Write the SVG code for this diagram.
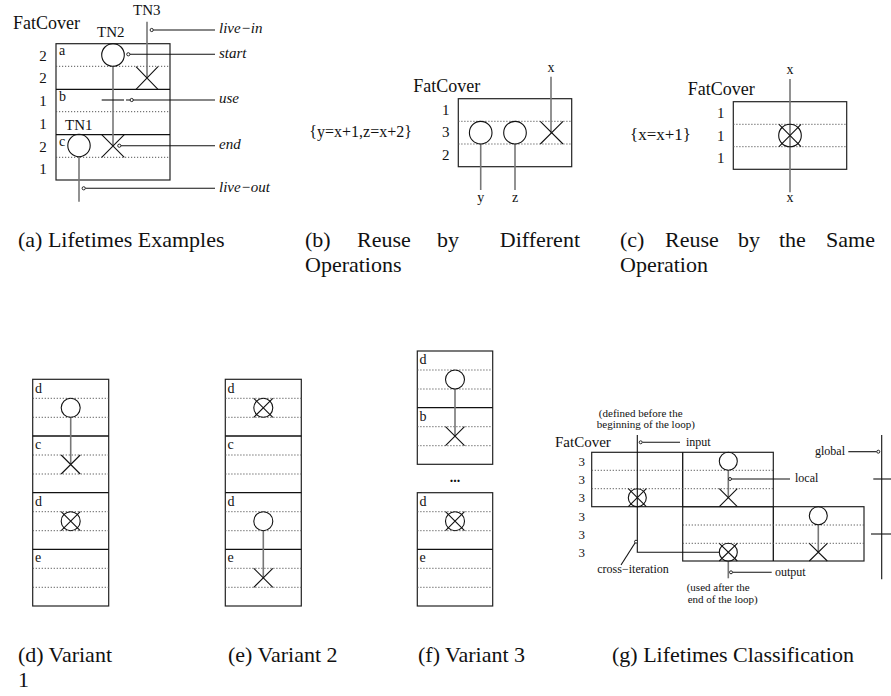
<svg xmlns="http://www.w3.org/2000/svg" width="891" height="696" viewBox="0 0 891 696">
<style>
text{font-family:"Liberation Serif","Times New Roman",serif;fill:#111}
.fc{font-size:18px}
.dg{font-size:15px;text-anchor:middle}
.sl{font-size:14px}
.it{font-size:15px;font-style:italic}
.g{font-size:12px}
.gs{font-size:11px}
.cap{font-size:22px}
.box{fill:none;stroke:#222;stroke-width:1.2}
.sep{stroke:#111;stroke-width:1.3}
.dot{stroke:#555;stroke-width:1;stroke-dasharray:1.2 1.8}
.life{stroke:#777;stroke-width:1.6;fill:none}
.ln{stroke:#111;stroke-width:1.1;fill:none}
.sym{fill:none;stroke:#111;stroke-width:1.1}
.pin{fill:#fff;stroke:#111;stroke-width:0.9}
</style>

<!-- Panel (a) -->
<g id="panel-a">
<text class="fc" x="13" y="29">FatCover</text>
<text x="133" y="15" style="font-size:15px">TN3</text>
<text x="97" y="37" style="font-size:15px">TN2</text>
<text x="65" y="130" style="font-size:15px">TN1</text>
<rect class="box" x="56" y="43.7" width="114" height="136.3"/>
<line class="sep" x1="56" y1="89.3" x2="170" y2="89.3"/>
<line class="sep" x1="56" y1="134.7" x2="170" y2="134.7"/>
<line class="dot" x1="56" y1="66.3" x2="170" y2="66.3"/>
<line class="dot" x1="56" y1="111.7" x2="170" y2="111.7"/>
<line class="dot" x1="56" y1="157.3" x2="170" y2="157.3"/>
<text class="sl" x="59" y="55">a</text>
<text class="sl" x="59" y="101">b</text>
<text class="sl" x="59" y="146">c</text>
<text class="dg" x="43" y="60.5">2</text>
<text class="dg" x="43" y="83.3">2</text>
<text class="dg" x="43" y="106">1</text>
<text class="dg" x="43" y="128.7">1</text>
<text class="dg" x="43" y="151.5">2</text>
<text class="dg" x="43" y="174.2">1</text>
</g>
<g id="TN2">
<line class="life" x1="113" y1="66.3" x2="113" y2="146"/>
<circle class="sym" cx="113" cy="55" r="11.3"/>
<path class="sym" d="M101.7,134.7L124.3,157.3M124.3,134.7L101.7,157.3"/>
</g>
<g id="TN3">
<line class="life" x1="147" y1="21.7" x2="147" y2="78"/>
<path class="sym" d="M136,66.7L158,89.3M158,66.7L136,89.3"/>
</g>
<g id="TN1">
<line class="life" x1="79" y1="156.7" x2="79" y2="201.7"/>
<circle class="sym" cx="79" cy="145.5" r="11.2"/>
</g>
<g id="connectors-a">
<line class="ln" x1="153.3" y1="30" x2="215" y2="30"/><circle class="pin" cx="151.7" cy="30" r="1.6"/>
<line class="ln" x1="130" y1="54.3" x2="215" y2="54.3"/><circle class="pin" cx="128.3" cy="54.3" r="1.6"/>
<line class="ln" x1="101.7" y1="100" x2="124" y2="100"/>
<line class="ln" x1="126" y1="100" x2="215" y2="100"/><circle class="pin" cx="131.7" cy="100" r="1.6"/>
<line class="ln" x1="121" y1="145.7" x2="215" y2="145.7"/><circle class="pin" cx="119.3" cy="145.7" r="1.6"/>
<line class="ln" x1="85.3" y1="188.3" x2="215" y2="188.3"/><circle class="pin" cx="83.7" cy="188.3" r="1.6"/>
<text class="it" x="219" y="33">live−in</text>
<text class="it" x="219" y="57.5">start</text>
<text class="it" x="219" y="103">use</text>
<text class="it" x="219" y="149">end</text>
<text class="it" x="219" y="191.5">live−out</text>
</g>

<!-- Panel (b) -->
<g id="panel-b">
<text class="fc" x="413.3" y="91.7">FatCover</text>
<text x="309.3" y="137" style="font-size:16px">{y=x+1,z=x+2}</text>
<rect class="box" x="458.3" y="98.7" width="113.4" height="68"/>
<line class="dot" x1="458.3" y1="121.3" x2="571.7" y2="121.3"/>
<line class="dot" x1="458.3" y1="144" x2="571.7" y2="144"/>
<text class="dg" x="445.7" y="114.5">1</text>
<text class="dg" x="445.7" y="137.2">3</text>
<text class="dg" x="445.7" y="159.8">2</text>
</g>
<g id="op-y">
<line class="life" x1="480.7" y1="144" x2="480.7" y2="190"/>
<circle class="sym" cx="480.7" cy="132.7" r="11.3"/>
<text class="sl" x="480.7" y="201.7" text-anchor="middle">y</text>
</g>
<g id="op-z">
<line class="life" x1="515" y1="144" x2="515" y2="190"/>
<circle class="sym" cx="515" cy="132.7" r="11.3"/>
<text class="sl" x="515" y="201.7" text-anchor="middle">z</text>
</g>
<g id="op-x">
<line class="life" x1="551" y1="76.7" x2="551" y2="132.7"/>
<path class="sym" d="M540.3,121.3L563,144M563,121.3L540.3,144"/>
<text class="sl" x="551" y="71.7" text-anchor="middle">x</text>
</g>

<!-- Panel (c) -->
<g id="panel-c">
<text class="fc" x="687.7" y="95">FatCover</text>
<text x="630" y="140" style="font-size:17px">{x=x+1}</text>
<rect class="box" x="733.3" y="101.7" width="113.4" height="67.6"/>
<line class="dot" x1="733.3" y1="124.3" x2="846.7" y2="124.3"/>
<line class="dot" x1="733.3" y1="146.7" x2="846.7" y2="146.7"/>
<text class="dg" x="720.7" y="118">1</text>
<text class="dg" x="720.7" y="140.5">1</text>
<text class="dg" x="720.7" y="163">1</text>
</g>
<g id="op-xx">
<line class="life" x1="790" y1="79" x2="790" y2="192.3"/>
<circle class="sym" cx="790" cy="135.5" r="11.3"/>
<path class="sym" d="M779,124.3L801,146.7M801,124.3L779,146.7"/>
<text class="sl" x="790" y="74" text-anchor="middle">x</text>
<text class="sl" x="790" y="202.3" text-anchor="middle">x</text>
</g>

<!-- Panel (d) -->
<g id="panel-d">
<rect class="box" x="32.7" y="379.3" width="76" height="226.7"/>
<line class="sep" x1="32.7" y1="436" x2="108.7" y2="436"/>
<line class="sep" x1="32.7" y1="492.7" x2="108.7" y2="492.7"/>
<line class="sep" x1="32.7" y1="549.3" x2="108.7" y2="549.3"/>
<g class="dot">
<line x1="32.7" y1="398.3" x2="108.7" y2="398.3"/><line x1="32.7" y1="417.3" x2="108.7" y2="417.3"/>
<line x1="32.7" y1="455" x2="108.7" y2="455"/><line x1="32.7" y1="474" x2="108.7" y2="474"/>
<line x1="32.7" y1="511.7" x2="108.7" y2="511.7"/><line x1="32.7" y1="530.7" x2="108.7" y2="530.7"/>
<line x1="32.7" y1="568.3" x2="108.7" y2="568.3"/><line x1="32.7" y1="587.3" x2="108.7" y2="587.3"/>
</g>
<text class="sl" x="35" y="392.5">d</text>
<text class="sl" x="35" y="449">c</text>
<text class="sl" x="35" y="505.5">d</text>
<text class="sl" x="35" y="562">e</text>
<line class="life" x1="70.7" y1="417.3" x2="70.7" y2="464.5"/>
<circle class="sym" cx="70.7" cy="407.8" r="9.5"/>
<path class="sym" d="M61.2,455L80.2,474M80.2,455L61.2,474"/>
<circle class="sym" cx="70.7" cy="521.2" r="9.5"/>
<path class="sym" d="M61.2,511.7L80.2,530.7M80.2,511.7L61.2,530.7"/>
</g>

<!-- Panel (e) -->
<g id="panel-e">
<rect class="box" x="225.3" y="379.3" width="76" height="226.7"/>
<line class="sep" x1="225.3" y1="436" x2="301.3" y2="436"/>
<line class="sep" x1="225.3" y1="492.7" x2="301.3" y2="492.7"/>
<line class="sep" x1="225.3" y1="549.3" x2="301.3" y2="549.3"/>
<g class="dot">
<line x1="225.3" y1="398.3" x2="301.3" y2="398.3"/><line x1="225.3" y1="417.3" x2="301.3" y2="417.3"/>
<line x1="225.3" y1="455" x2="301.3" y2="455"/><line x1="225.3" y1="474" x2="301.3" y2="474"/>
<line x1="225.3" y1="511.7" x2="301.3" y2="511.7"/><line x1="225.3" y1="530.7" x2="301.3" y2="530.7"/>
<line x1="225.3" y1="568.3" x2="301.3" y2="568.3"/><line x1="225.3" y1="587.3" x2="301.3" y2="587.3"/>
</g>
<text class="sl" x="227.6" y="392.5">d</text>
<text class="sl" x="227.6" y="449">c</text>
<text class="sl" x="227.6" y="505.5">d</text>
<text class="sl" x="227.6" y="562">e</text>
<circle class="sym" cx="263.3" cy="407.8" r="9.5"/>
<path class="sym" d="M253.8,398.3L272.8,417.3M272.8,398.3L253.8,417.3"/>
<line class="life" x1="263.3" y1="530.7" x2="263.3" y2="577.8"/>
<circle class="sym" cx="263.3" cy="521.2" r="9.5"/>
<path class="sym" d="M253.8,568.3L272.8,587.3M272.8,568.3L253.8,587.3"/>
</g>

<!-- Panel (f) -->
<g id="panel-f">
<rect class="box" x="417.3" y="351" width="75.4" height="113.3"/>
<line class="sep" x1="417.3" y1="407.7" x2="492.7" y2="407.7"/>
<g class="dot">
<line x1="417.3" y1="370" x2="492.7" y2="370"/><line x1="417.3" y1="389" x2="492.7" y2="389"/>
<line x1="417.3" y1="426.7" x2="492.7" y2="426.7"/><line x1="417.3" y1="445.7" x2="492.7" y2="445.7"/>
</g>
<text class="sl" x="419.6" y="364">d</text>
<text class="sl" x="419.6" y="420.5">b</text>
<line class="life" x1="455" y1="389" x2="455" y2="436.2"/>
<circle class="sym" cx="455" cy="379.5" r="9.5"/>
<path class="sym" d="M445.5,426.7L464.5,445.7M464.5,426.7L445.5,445.7"/>
<text x="455" y="482" text-anchor="middle" style="font-size:14px;font-weight:bold">...</text>
<rect class="box" x="417.3" y="492.7" width="75.4" height="113.3"/>
<line class="sep" x1="417.3" y1="549.3" x2="492.7" y2="549.3"/>
<g class="dot">
<line x1="417.3" y1="511.7" x2="492.7" y2="511.7"/><line x1="417.3" y1="530.7" x2="492.7" y2="530.7"/>
<line x1="417.3" y1="568.3" x2="492.7" y2="568.3"/><line x1="417.3" y1="587.3" x2="492.7" y2="587.3"/>
</g>
<text class="sl" x="419.6" y="505.5">d</text>
<text class="sl" x="419.6" y="562">e</text>
<circle class="sym" cx="455" cy="521.2" r="9.5"/>
<path class="sym" d="M445.5,511.7L464.5,530.7M464.5,511.7L445.5,530.7"/>
</g>

<!-- Panel (g) -->
<g id="panel-g">
<text x="555" y="446.7" style="font-size:15px">FatCover</text>
<rect class="box" x="591.7" y="452.3" width="181.6" height="54.4"/>
<rect class="box" x="682.7" y="506.7" width="181.3" height="54.3"/>
<line class="sep" x1="682.7" y1="452.3" x2="682.7" y2="506.7"/>
<line class="sep" x1="773.3" y1="506.7" x2="773.3" y2="561"/>
<g class="dot">
<line x1="591.7" y1="470.3" x2="773.3" y2="470.3"/><line x1="591.7" y1="488.7" x2="773.3" y2="488.7"/>
<line x1="682.7" y1="525" x2="864" y2="525"/><line x1="682.7" y1="543.3" x2="864" y2="543.3"/>
</g>
<text class="dg" x="581.7" y="466" style="font-size:13px">3</text>
<text class="dg" x="581.7" y="484.2" style="font-size:13px">3</text>
<text class="dg" x="581.7" y="502.4" style="font-size:13px">3</text>
<text class="dg" x="581.7" y="520.5" style="font-size:13px">3</text>
<text class="dg" x="581.7" y="538.9" style="font-size:13px">3</text>
<text class="dg" x="581.7" y="556.9" style="font-size:13px">3</text>
</g>
<g id="var-input">
<path class="ln" d="M637.3,435V552.2H719.3"/>
<circle class="sym" cx="637.3" cy="497.7" r="9"/>
<path class="sym" d="M628.3,488.7L646.3,506.7M646.3,488.7L628.3,506.7"/>
</g>
<g id="var-local">
<line class="life" x1="728.3" y1="470.3" x2="728.3" y2="497.7"/>
<circle class="sym" cx="728.3" cy="461.3" r="9"/>
<path class="sym" d="M719.3,488.7L737.3,506.7M737.3,488.7L719.3,506.7"/>
</g>
<g id="var-output">
<line class="life" x1="728.3" y1="561" x2="728.3" y2="578.3"/>
<circle class="sym" cx="728.3" cy="552.2" r="9"/>
<path class="sym" d="M719.3,543.3L737.3,561M737.3,543.3L719.3,561"/>
</g>
<g id="var-right">
<line class="life" x1="818.3" y1="525" x2="818.3" y2="552.2"/>
<circle class="sym" cx="818.3" cy="515.8" r="9"/>
<path class="sym" d="M809.3,543.3L827.3,561M827.3,543.3L809.3,561"/>
</g>
<g id="var-global">
<line class="ln" x1="881.7" y1="435" x2="881.7" y2="579.3"/>
<line class="ln" x1="873.3" y1="479" x2="891" y2="479"/>
<line class="ln" x1="871" y1="534" x2="891" y2="534"/>
</g>
<g id="connectors-g">
<line class="ln" x1="642.3" y1="442.3" x2="680" y2="442.3"/><circle class="pin" cx="640.7" cy="442.3" r="1.5"/>
<line class="ln" x1="731.6" y1="479" x2="790" y2="479"/><circle class="pin" cx="730" cy="479" r="1.5"/>
<line class="ln" x1="732.6" y1="572.3" x2="771.7" y2="572.3"/><circle class="pin" cx="731" cy="572.3" r="1.5"/>
<line class="ln" x1="848.3" y1="451.7" x2="876.7" y2="451.7"/><circle class="pin" cx="878.3" cy="451.7" r="1.5"/>
<line class="ln" x1="635" y1="543" x2="621" y2="565"/><circle class="pin" cx="636" cy="541.7" r="1.5"/>
<text class="gs" x="640.7" y="416.5" text-anchor="middle">(defined before the</text>
<text class="gs" x="645.8" y="428" text-anchor="middle">beginning of the loop)</text>
<text class="g" x="686" y="445.5">input</text>
<text class="g" x="795" y="482">local</text>
<text class="g" x="775" y="575.5">output</text>
<text class="g" x="815" y="454.5">global</text>
<text class="g" x="597.3" y="573.3">cross−iteration</text>
<text class="gs" x="686.7" y="591">(used after the</text>
<text class="gs" x="687.7" y="603">end of the loop)</text>
</g>

<!-- Captions -->
<g id="captions">
<text class="cap" x="18" y="247">(a) Lifetimes Examples</text>
<text class="cap" x="305" y="247">(b)</text>
<text class="cap" x="357" y="247">Reuse</text>
<text class="cap" x="437" y="247">by</text>
<text class="cap" x="580" y="247" text-anchor="end">Different</text>
<text class="cap" x="305" y="272">Operations</text>
<text class="cap" x="620" y="247">(c)</text>
<text class="cap" x="665" y="247">Reuse</text>
<text class="cap" x="738" y="247">by</text>
<text class="cap" x="779" y="247">the</text>
<text class="cap" x="875" y="247" text-anchor="end">Same</text>
<text class="cap" x="620" y="272">Operation</text>
<text class="cap" x="18" y="662">(d)</text>
<text class="cap" x="112" y="662" text-anchor="end">Variant</text>
<text class="cap" x="18" y="687">1</text>
<text class="cap" x="228" y="662">(e) Variant 2</text>
<text class="cap" x="418" y="662">(f) Variant 3</text>
<text class="cap" x="612" y="662">(g) Lifetimes Classification</text>
</g>
</svg>
